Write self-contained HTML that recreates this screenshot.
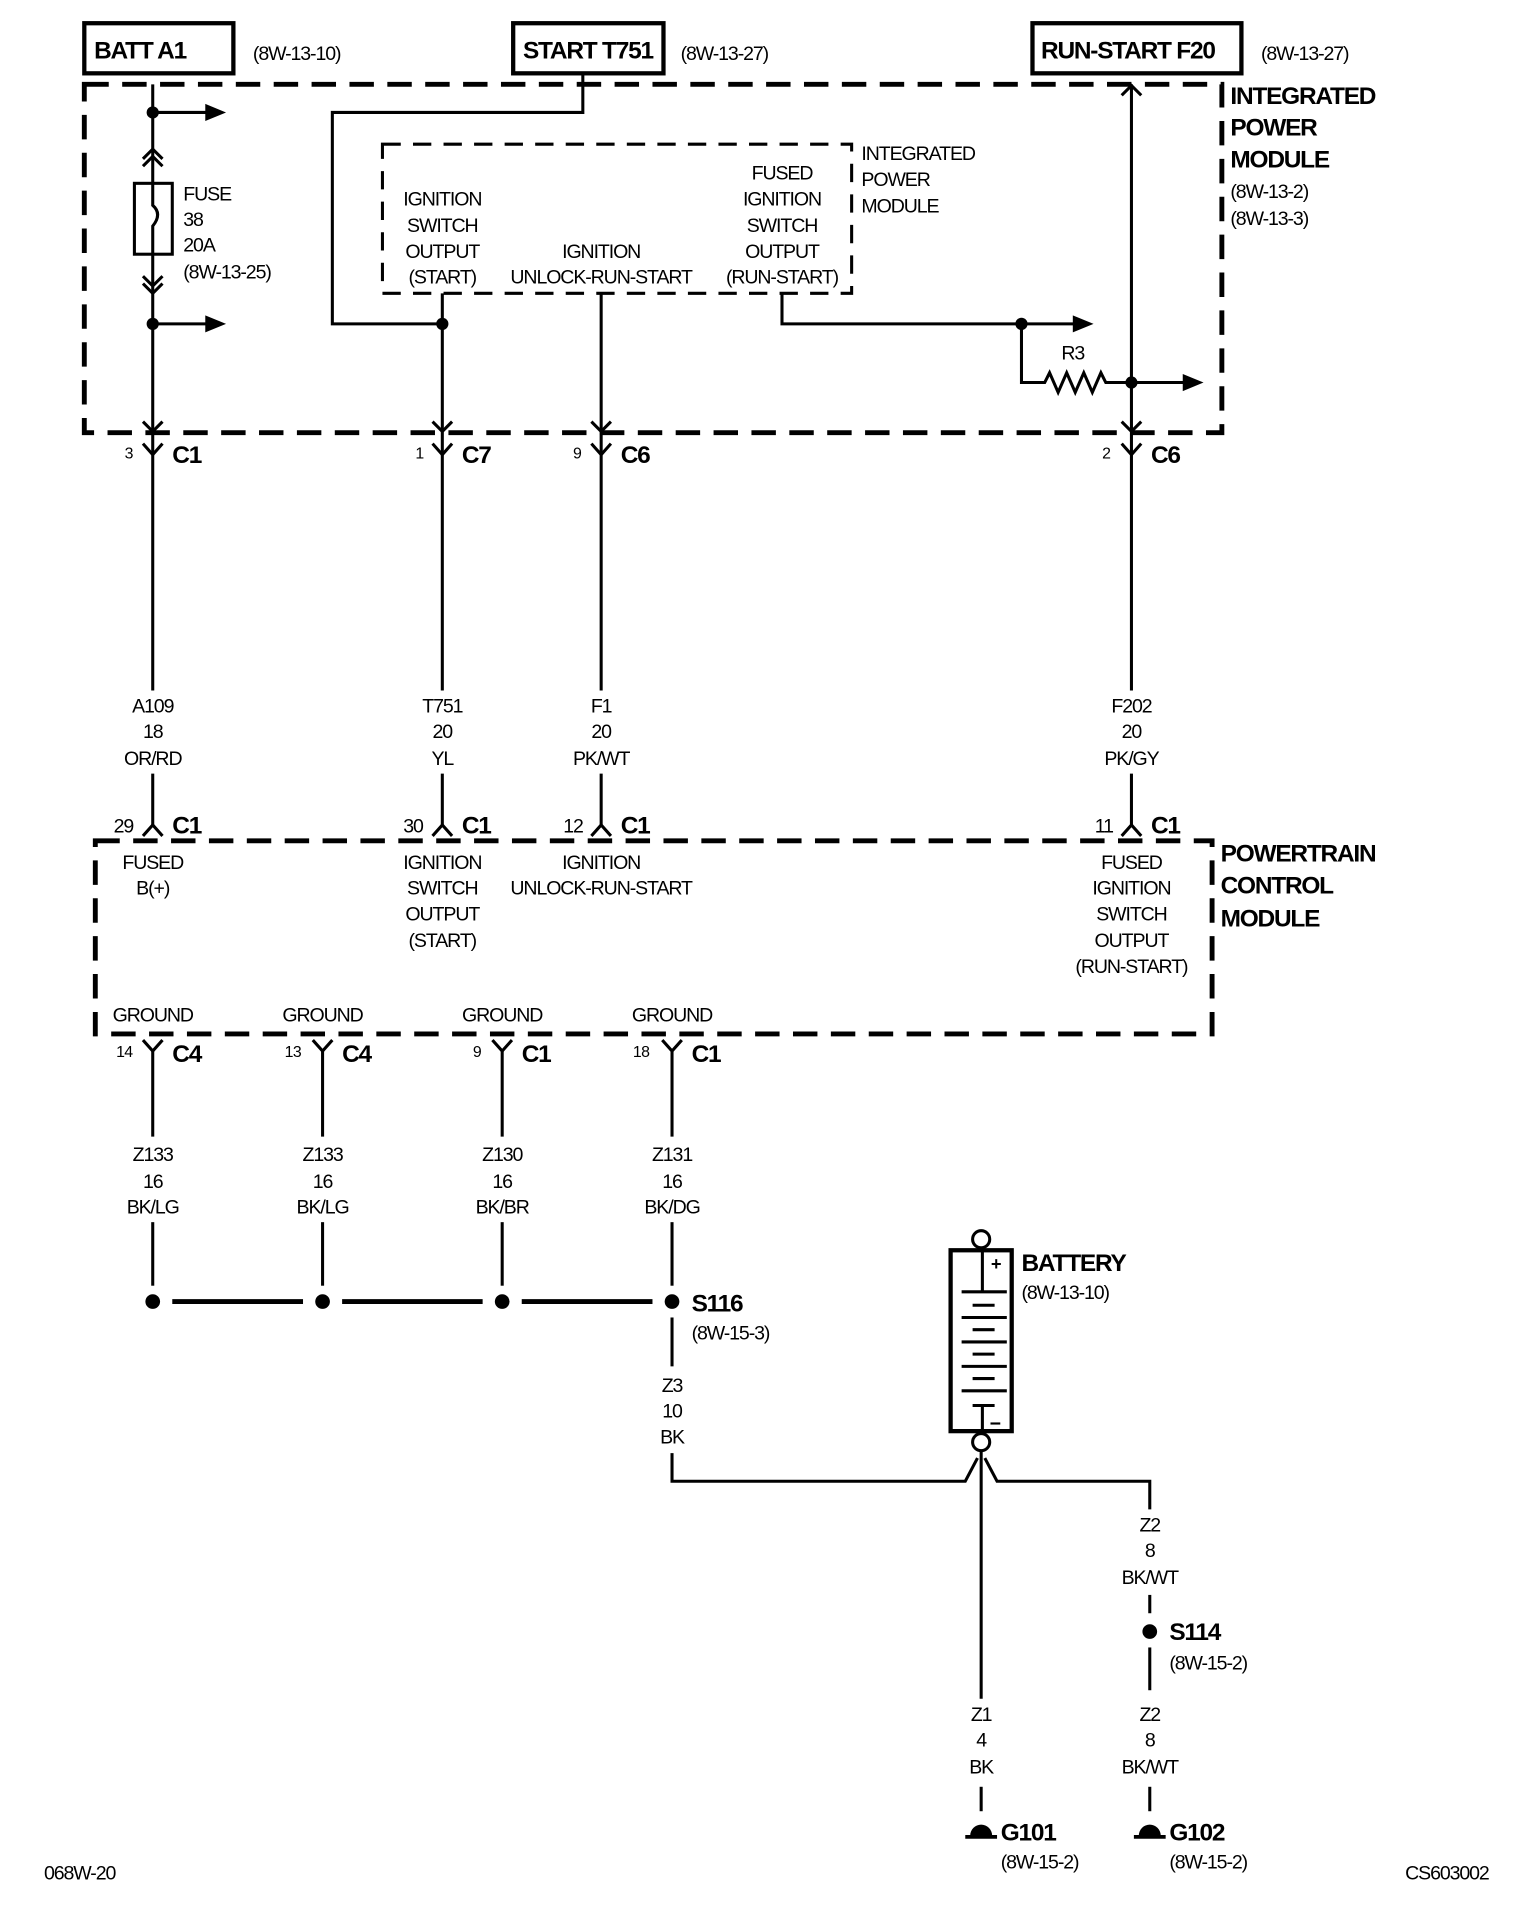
<!DOCTYPE html>
<html><head><meta charset="utf-8"><style>
html,body{margin:0;padding:0;background:#fff;}
svg{display:block;}
text{font-family:"Liberation Sans",sans-serif;fill:#000;font-size:16px;letter-spacing:-0.9px;}
.b{font-weight:bold;font-size:20px;letter-spacing:-1px;}
.m{text-anchor:middle;}
.s{font-size:13px;letter-spacing:-0.5px;}
</style></head><body>
<svg width="1520" height="1920" viewBox="0 0 1244 1571" preserveAspectRatio="none" xmlns="http://www.w3.org/2000/svg">
<g fill="none" stroke="#000" stroke-width="2.5">
<!-- header boxes -->
<rect x="69" y="19" width="122" height="41" stroke-width="3.5"/>
<rect x="420" y="19" width="123" height="41" stroke-width="3.5"/>
<rect x="845" y="19" width="171" height="41" stroke-width="3.5"/>
<!-- IPM dashed -->
<rect x="69" y="69" width="931" height="285" stroke-width="4" stroke-dasharray="20,11"/>
<rect x="313" y="118" width="384" height="122" stroke-width="2.5" stroke-dasharray="15,10"/>
<!-- PCM dashed -->
<rect x="78" y="688" width="914" height="158" stroke-width="4" stroke-dasharray="20,11"/>

<!-- BATT wire -->
<line x1="125" y1="69" x2="125" y2="565"/>
<line x1="125" y1="92" x2="170" y2="92"/>
<line x1="125" y1="265" x2="170" y2="265"/>
<polyline points="117,130 125,122 133,130"/><polyline points="117,136 125,128 133,136"/>
<polyline points="117,226 125,234 133,226"/><polyline points="117,232 125,240 133,232"/>
<rect x="110" y="150" width="31" height="58" fill="#fff"/>
<path d="M125 150 V168 Q133 175 125 185 V208" />
<!-- START wire -->
<polyline points="477,60 477,92 272,92 272,265 362,265"/>
<line x1="362" y1="240" x2="362" y2="565"/>
<line x1="492" y1="240" x2="492" y2="565"/>
<polyline points="640,240 640,265 880,265"/>
<polyline points="836,265 836,313 855,313 859,305 866,321 873,305 880,321 887,305 894,321 901,305 905,313 970,313"/>
<line x1="926" y1="69" x2="926" y2="565"/>
<polyline points="918,78 926,70 934,78"/>
<!-- connector chevrons inside IPM bottom -->
<polyline points="117,345 125,353 133,345"/><polyline points="354,345 362,353 370,345"/>
<polyline points="484,345 492,353 500,345"/><polyline points="918,345 926,353 934,345"/>
<!-- Y below -->
<polyline points="117,363 125,372 133,363"/><polyline points="354,363 362,372 370,363"/>
<polyline points="484,363 492,372 500,363"/><polyline points="918,363 926,372 934,363"/>
<!-- lower wires -->
<line x1="125" y1="633" x2="125" y2="675"/><line x1="362" y1="633" x2="362" y2="675"/>
<line x1="492" y1="633" x2="492" y2="675"/><line x1="926" y1="633" x2="926" y2="675"/>
<polyline points="117,684 125,675 133,684"/><polyline points="354,684 362,675 370,684"/>
<polyline points="484,684 492,675 500,684"/><polyline points="918,684 926,675 934,684"/>
<!-- ground Ys -->
<polyline points="117,851 125,860 133,851"/><polyline points="256,851 264,860 272,851"/>
<polyline points="403,851 411,860 419,851"/><polyline points="542,851 550,860 558,851"/>
<line x1="125" y1="860" x2="125" y2="930"/><line x1="264" y1="860" x2="264" y2="930"/>
<line x1="411" y1="860" x2="411" y2="930"/><line x1="550" y1="860" x2="550" y2="930"/>
<line x1="125" y1="1000" x2="125" y2="1052"/><line x1="264" y1="1000" x2="264" y2="1052"/>
<line x1="411" y1="1000" x2="411" y2="1052"/><line x1="550" y1="1000" x2="550" y2="1052"/>
<line x1="141" y1="1065" x2="248" y2="1065" stroke-width="4"/>
<line x1="280" y1="1065" x2="395" y2="1065" stroke-width="4"/>
<line x1="427" y1="1065" x2="534" y2="1065" stroke-width="4"/>
<line x1="550" y1="1078" x2="550" y2="1118"/>
<polyline points="550,1189 550,1212 790,1212 800,1193"/>
<!-- battery -->
<rect x="778" y="1023" width="50" height="148" stroke-width="3.5"/>
<circle cx="803" cy="1014" r="7" fill="#fff"/>
<circle cx="803" cy="1180" r="7" fill="#fff"/>
<line x1="804" y1="1023" x2="804" y2="1057"/>
<line x1="804" y1="1150" x2="804" y2="1171"/>
<g stroke-width="2.5">
<line x1="787" y1="1057" x2="824" y2="1057"/><line x1="796" y1="1068" x2="814" y2="1068"/>
<line x1="787" y1="1078" x2="824" y2="1078"/><line x1="796" y1="1088" x2="814" y2="1088"/>
<line x1="787" y1="1098" x2="824" y2="1098"/><line x1="796" y1="1108" x2="814" y2="1108"/>
<line x1="787" y1="1118" x2="824" y2="1118"/><line x1="796" y1="1128" x2="814" y2="1128"/>
<line x1="787" y1="1138" x2="824" y2="1138"/><line x1="796" y1="1150" x2="814" y2="1150"/>
</g>
<line x1="803" y1="1187" x2="803" y2="1390"/>
<polyline points="806,1193 816,1212 941,1212 941,1235"/>
<line x1="941" y1="1305" x2="941" y2="1320"/>
<line x1="941" y1="1348" x2="941" y2="1383"/>
<line x1="803" y1="1462" x2="803" y2="1482"/>
<line x1="941" y1="1462" x2="941" y2="1482"/>
<line x1="790" y1="1503" x2="816" y2="1503" stroke-width="3"/>
<line x1="928" y1="1503" x2="954" y2="1503" stroke-width="3"/>
</g>
<g fill="#000">
<circle cx="125" cy="92" r="5"/><circle cx="125" cy="265" r="5"/>
<circle cx="362" cy="265" r="5"/><circle cx="836" cy="265" r="5"/><circle cx="926" cy="313" r="5"/>
<polygon points="168,85 185,92 168,99"/><polygon points="168,258 185,265 168,272"/>
<polygon points="878,258 895,265 878,272"/><polygon points="968,306 985,313 968,320"/>
<circle cx="125" cy="1065" r="6"/><circle cx="264" cy="1065" r="6"/>
<circle cx="411" cy="1065" r="6"/><circle cx="550" cy="1065" r="6"/>
<circle cx="941" cy="1335" r="6"/>
<path d="M794 1502 A9 9 0 0 1 812 1502 Z"/><path d="M932 1502 A9 9 0 0 1 950 1502 Z"/>
</g>

<!-- text -->
<text class="b" x="77" y="48">BATT A1</text>
<text x="207" y="49">(8W-13-10)</text>
<text class="b" x="428" y="48">START T751</text>
<text x="557" y="49">(8W-13-27)</text>
<text class="b" x="852" y="48">RUN-START F20</text>
<text x="1032" y="49">(8W-13-27)</text>
<text class="b" x="1007" y="85">INTEGRATED</text>
<text class="b" x="1007" y="111">POWER</text>
<text class="b" x="1007" y="137">MODULE</text>
<text x="1007" y="162">(8W-13-2)</text>
<text x="1007" y="184">(8W-13-3)</text>
<text x="150" y="164">FUSE</text><text x="150" y="185">38</text><text x="150" y="206">20A</text><text x="150" y="228">(8W-13-25)</text>
<text class="m" x="362" y="168">IGNITION</text><text class="m" x="362" y="190">SWITCH</text>
<text class="m" x="362" y="211">OUTPUT</text><text class="m" x="362" y="232">(START)</text>
<text class="m" x="492" y="211">IGNITION</text><text class="m" x="492" y="232">UNLOCK-RUN-START</text>
<text class="m" x="640" y="147">FUSED</text><text class="m" x="640" y="168">IGNITION</text>
<text class="m" x="640" y="190">SWITCH</text><text class="m" x="640" y="211">OUTPUT</text>
<text class="m" x="640" y="232">(RUN-START)</text>
<text x="705" y="131">INTEGRATED</text><text x="705" y="152">POWER</text><text x="705" y="174">MODULE</text>
<text class="m" x="878" y="294">R3</text>

<text class="s" x="102" y="375">3</text><text class="b" x="141" y="379">C1</text>
<text class="s" x="340" y="375">1</text><text class="b" x="378" y="379">C7</text>
<text class="s" x="469" y="375">9</text><text class="b" x="508" y="379">C6</text>
<text class="s" x="902" y="375">2</text><text class="b" x="942" y="379">C6</text>

<text class="m" x="125" y="583">A109</text><text class="m" x="125" y="604">18</text><text class="m" x="125" y="626">OR/RD</text>
<text class="m" x="362" y="583">T751</text><text class="m" x="362" y="604">20</text><text class="m" x="362" y="626">YL</text>
<text class="m" x="492" y="583">F1</text><text class="m" x="492" y="604">20</text><text class="m" x="492" y="626">PK/WT</text>
<text class="m" x="926" y="583">F202</text><text class="m" x="926" y="604">20</text><text class="m" x="926" y="626">PK/GY</text>

<text x="93" y="681">29</text><text class="b" x="141" y="682">C1</text>
<text x="330" y="681">30</text><text class="b" x="378" y="682">C1</text>
<text x="461" y="681">12</text><text class="b" x="508" y="682">C1</text>
<text x="896" y="681">11</text><text class="b" x="942" y="682">C1</text>

<text class="b" x="999" y="705">POWERTRAIN</text>
<text class="b" x="999" y="731">CONTROL</text>
<text class="b" x="999" y="758">MODULE</text>
<text class="m" x="125" y="711">FUSED</text><text class="m" x="125" y="732">B(+)</text>
<text class="m" x="362" y="711">IGNITION</text><text class="m" x="362" y="732">SWITCH</text>
<text class="m" x="362" y="753">OUTPUT</text><text class="m" x="362" y="775">(START)</text>
<text class="m" x="492" y="711">IGNITION</text><text class="m" x="492" y="732">UNLOCK-RUN-START</text>
<text class="m" x="926" y="711">FUSED</text><text class="m" x="926" y="732">IGNITION</text>
<text class="m" x="926" y="753">SWITCH</text><text class="m" x="926" y="775">OUTPUT</text>
<text class="m" x="926" y="796">(RUN-START)</text>
<text class="m" x="125" y="836">GROUND</text><text class="m" x="264" y="836">GROUND</text>
<text class="m" x="411" y="836">GROUND</text><text class="m" x="550" y="836">GROUND</text>

<text class="s" x="95" y="865">14</text><text class="b" x="141" y="869">C4</text>
<text class="s" x="233" y="865">13</text><text class="b" x="280" y="869">C4</text>
<text class="s" x="387" y="865">9</text><text class="b" x="427" y="869">C1</text>
<text class="s" x="518" y="865">18</text><text class="b" x="566" y="869">C1</text>

<text class="m" x="125" y="950">Z133</text><text class="m" x="125" y="972">16</text><text class="m" x="125" y="993">BK/LG</text>
<text class="m" x="264" y="950">Z133</text><text class="m" x="264" y="972">16</text><text class="m" x="264" y="993">BK/LG</text>
<text class="m" x="411" y="950">Z130</text><text class="m" x="411" y="972">16</text><text class="m" x="411" y="993">BK/BR</text>
<text class="m" x="550" y="950">Z131</text><text class="m" x="550" y="972">16</text><text class="m" x="550" y="993">BK/DG</text>

<text class="b" x="566" y="1073">S116</text><text x="566" y="1096">(8W-15-3)</text>
<text class="m" x="550" y="1139">Z3</text><text class="m" x="550" y="1160">10</text><text class="m" x="550" y="1181">BK</text>
<text class="b" x="836" y="1040">BATTERY</text><text x="836" y="1063">(8W-13-10)</text>
<text class="b" x="811" y="1039" style="font-size:15px">+</text>
<text class="b" x="810" y="1170" style="font-size:16px">−</text>
<text class="m" x="941" y="1253">Z2</text><text class="m" x="941" y="1274">8</text><text class="m" x="941" y="1296">BK/WT</text>
<text class="b" x="957" y="1342">S114</text><text x="957" y="1366">(8W-15-2)</text>
<text class="m" x="803" y="1408">Z1</text><text class="m" x="803" y="1429">4</text><text class="m" x="803" y="1451">BK</text>
<text class="m" x="941" y="1408">Z2</text><text class="m" x="941" y="1429">8</text><text class="m" x="941" y="1451">BK/WT</text>
<text class="b" x="819" y="1506">G101</text><text x="819" y="1529">(8W-15-2)</text>
<text class="b" x="957" y="1506">G102</text><text x="957" y="1529">(8W-15-2)</text>
<text x="36" y="1538">068W-20</text>
<text x="1150" y="1538">CS603002</text>
</svg>
</body></html>
